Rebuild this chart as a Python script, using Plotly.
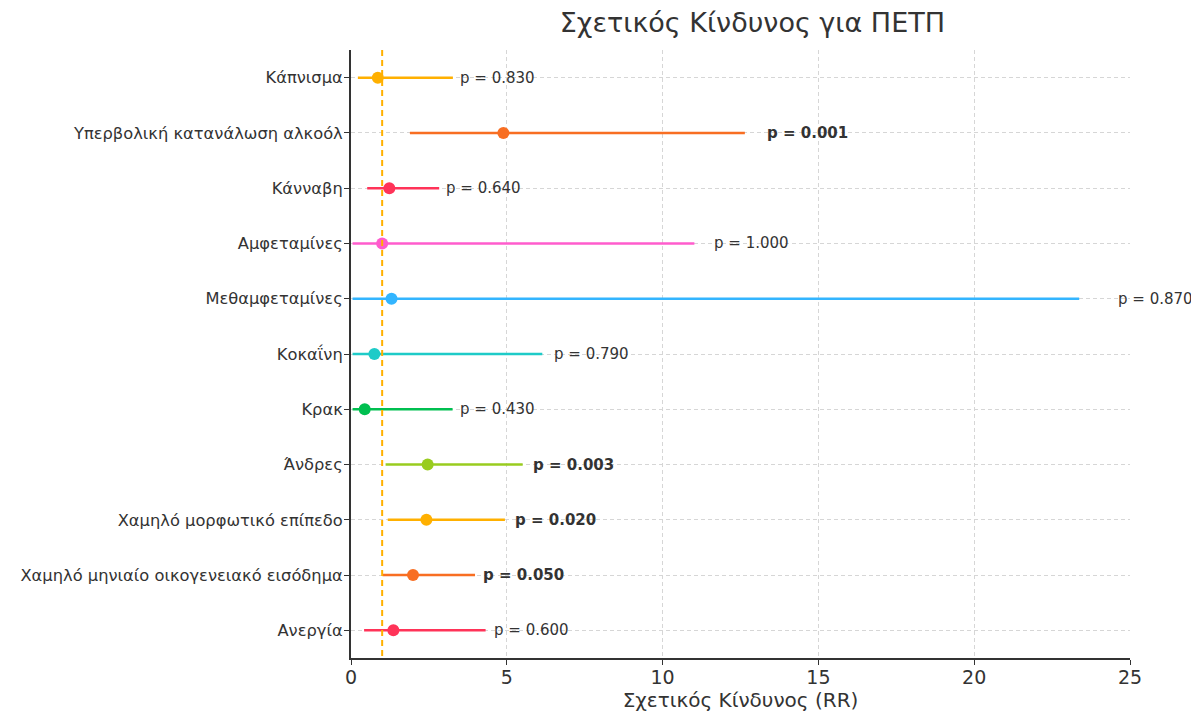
import plotly.graph_objects as go

categories = [
    "Κάπνισμα",
    "Υπερβολική κατανάλωση αλκοόλ",
    "Κάνναβη",
    "Αμφεταμίνες",
    "Μεθαμφεταμίνες",
    "Κοκαΐνη",
    "Κρακ",
    "Άνδρες",
    "Χαμηλό μορφωτικό επίπεδο",
    "Χαμηλό μηνιαίο οικογενειακό εισόδημα",
    "Ανεργία",
]
rr = [0.86, 4.89, 1.23, 1.00, 1.30, 0.75, 0.44, 2.46, 2.42, 1.99, 1.36]
ci_low = [0.22, 1.89, 0.52, 0.05, 0.05, 0.05, 0.05, 1.11, 1.18, 1.01, 0.42]
ci_high = [3.27, 12.64, 2.83, 11.02, 23.37, 6.14, 3.26, 5.51, 4.94, 3.98, 4.32]
p_values = [0.830, 0.001, 0.640, 1.000, 0.870, 0.790, 0.430, 0.003, 0.020, 0.050, 0.600]
colors = ["#FFB000", "#F86E22", "#FF3358", "#FF5CCD", "#33B5FF", "#1ECBC8",
          "#00BF50", "#99CC1F", "#FFB000", "#F86E22", "#FF3358"]

fig = go.Figure()

for i, c in enumerate(categories):
    fig.add_trace(go.Scatter(
        x=[ci_low[i], ci_high[i]], y=[c, c], mode="lines",
        line=dict(color=colors[i], width=2.5), showlegend=False, hoverinfo="skip"))

fig.add_trace(go.Scatter(
    x=[1, 1], y=[-0.5, 10.5], mode="lines", yaxis="y2",
    line=dict(color="#FFB000", width=2, dash="6px,4px"), showlegend=False, hoverinfo="skip"))

fig.add_trace(go.Scatter(
    x=rr, y=categories, mode="markers",
    marker=dict(color=colors, size=12), showlegend=False))

for i, c in enumerate(categories):
    sig = p_values[i] <= 0.05
    txt = f"p = {p_values[i]:.3f}"
    if sig:
        txt = f"<b>{txt}</b>"
    fig.add_annotation(
        x=ci_high[i] * 1.05, y=c, text=txt, showarrow=False,
        xanchor="left", yanchor="middle",
        font=dict(family="DejaVu Sans", size=15, color="#333333"))

fig.update_layout(
    width=1191, height=705,
    paper_bgcolor="white", plot_bgcolor="white",
    margin=dict(l=343, r=69, t=42, b=55),
    title=dict(text="Σχετικός Κίνδυνος για ΠΕΤΠ", x=0.625, xanchor="center",
               y=0.980, yanchor="middle",
               font=dict(family="DejaVu Sans", size=27, color="#333333")),
    font=dict(family="DejaVu Sans", color="#333333"),
    xaxis=dict(
        range=[0, 25], tickvals=[0, 5, 10, 15, 20, 25],
        showgrid=True, gridcolor="#d6d6d6", griddash="4px,3px", gridwidth=1,
        showline=True, linecolor="#333333", linewidth=2,
        ticks="outside", ticklen=5, tickcolor="#333333",
        tickfont=dict(size=19), zeroline=False, automargin=False,
        ticklabelstandoff=-4,
        title=dict(text="Σχετικός Κίνδυνος (RR)", font=dict(size=20), standoff=2),
    ),
    yaxis=dict(
        categoryorder="array", categoryarray=categories,
        range=[10.5, -0.5],
        showgrid=True, gridcolor="#d6d6d6", griddash="4px,3px", gridwidth=1,
        showline=True, linecolor="#333333", linewidth=2,
        ticks="outside", ticklen=5, tickcolor="#333333",
        tickfont=dict(size=16.3), zeroline=False, automargin=False,
        ticklabelstandoff=-2,
    ),
    yaxis2=dict(range=[10.5, -0.5], overlaying="y", visible=False),
)

fig.write_html("out.html")
